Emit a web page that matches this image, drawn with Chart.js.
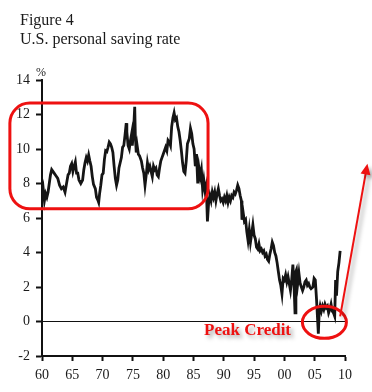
<!DOCTYPE html>
<html lang="en">
<head>
    <meta charset="UTF-8">
    <title>U.S. personal saving rate</title>
    <script src="https://cdn.jsdelivr.net/npm/chart.js"></script>
    <style>
        body {
            margin: 0;
            padding: 0;
            background: #fff;
            font-family: "Liberation Serif", "Times New Roman", serif;
        }
        #wrap {
            position: relative;
            width: 372px;
            height: 392px;
        }
        #savingChart {
            position: absolute;
            left: 0;
            top: 0;
        }
        .title {
            position: absolute;
            left: 20px;
            top: 10px;
            font-size: 16px;
            line-height: 19px;
            color: #1a1a1a;
        }
        .unit {
            position: absolute;
            left: 36px;
            top: 66px;
            font-size: 12px;
            line-height: 12px;
            color: #222;
        }
        .peak {
            position: absolute;
            left: 204px;
            top: 320px;
            font-size: 17px;
            line-height: 20px;
            font-weight: bold;
            color: #ee1111;
            text-shadow: 3px 3px 4px rgba(0, 0, 0, 0.35);
        }
    </style>
</head>
<body>
    <div id="wrap">
        <canvas id="savingChart" width="372" height="392"></canvas>
        <div class="title">Figure 4<br>U.S. personal saving rate</div>
        <div class="unit">%</div>
        <div class="peak">Peak Credit</div>
    </div>

    <script>
        // personal saving rate, % of disposable income
        const years = [
            1960.0, 1960.2, 1960.4, 1960.6, 1960.8, 1961.0, 1961.2, 1961.4, 1961.6, 1961.8,
            1962.0, 1962.3, 1962.6, 1962.9, 1963.2, 1963.5, 1963.8, 1964.0, 1964.3, 1964.5,
            1964.7, 1964.9, 1965.1, 1965.3, 1965.5, 1965.7, 1965.9, 1966.1, 1966.4, 1966.7,
            1966.9, 1967.1, 1967.3, 1967.5, 1967.7, 1967.9, 1968.1, 1968.3, 1968.5, 1968.8,
            1969.0, 1969.2, 1969.35, 1969.5, 1969.7, 1969.9, 1970.1, 1970.3, 1970.5, 1970.7,
            1970.9, 1971.1, 1971.3, 1971.5, 1971.7, 1971.9, 1972.1, 1972.3, 1972.5, 1972.7,
            1972.9, 1973.1, 1973.3, 1973.5, 1973.7, 1973.9, 1974.0, 1974.2, 1974.4, 1974.6,
            1974.8, 1974.9, 1975.1, 1975.3, 1975.4, 1975.55, 1975.7, 1975.9, 1976.1, 1976.4,
            1976.6, 1976.8, 1977.0, 1977.2, 1977.4, 1977.6, 1977.8, 1978.0, 1978.2, 1978.4,
            1978.6, 1978.8, 1979.0, 1979.2, 1979.4, 1979.6, 1979.8, 1980.0, 1980.2, 1980.4,
            1980.6, 1980.8, 1981.0, 1981.2, 1981.4, 1981.6, 1981.8, 1982.0, 1982.2, 1982.4,
            1982.6, 1982.8, 1983.0, 1983.2, 1983.4, 1983.6, 1983.8, 1984.0, 1984.3, 1984.5,
            1984.7, 1984.9, 1985.1, 1985.3, 1985.5, 1985.7, 1985.9, 1986.1, 1986.3, 1986.5,
            1986.7, 1986.9, 1987.1, 1987.3, 1987.5, 1987.7, 1987.9, 1988.1, 1988.3, 1988.5,
            1988.7, 1988.9, 1989.1, 1989.3, 1989.5, 1989.7, 1989.9, 1990.1, 1990.3, 1990.5,
            1990.7, 1990.9, 1991.1, 1991.3, 1991.5, 1991.7, 1991.9, 1992.1, 1992.3, 1992.5,
            1992.7, 1992.9, 1993.0, 1993.2, 1993.4, 1993.6, 1993.8, 1994.0, 1994.2, 1994.4,
            1994.6, 1994.8, 1995.0, 1995.2, 1995.4, 1995.6, 1995.8, 1996.0, 1996.2, 1996.4,
            1996.6, 1996.8, 1997.0, 1997.2, 1997.4, 1997.6, 1997.8, 1998.0, 1998.2, 1998.4,
            1998.6, 1998.8, 1999.0, 1999.2, 1999.4, 1999.6, 1999.8, 2000.0, 2000.2, 2000.4,
            2000.6, 2000.8, 2001.0, 2001.2, 2001.4, 2001.6, 2001.75, 2001.9, 2002.0, 2002.2,
            2002.4, 2002.6, 2002.8, 2003.0, 2003.2, 2003.4, 2003.6, 2003.8, 2004.0, 2004.2,
            2004.4, 2004.7, 2004.9, 2005.1, 2005.3, 2005.6, 2005.75, 2005.9, 2006.1, 2006.3,
            2006.5, 2006.7, 2006.9, 2007.1, 2007.3, 2007.5, 2007.7, 2007.9, 2008.1, 2008.3,
            2008.45, 2008.6, 2008.8, 2009.0, 2009.2
        ];
        const savingRate = [
            7.3, 7.7, 7.0, 7.4, 7.2, 7.5, 8.0, 8.5, 8.8, 8.7,
            8.6, 8.45, 8.3, 7.9, 7.7, 7.8, 7.5, 7.9, 8.5, 8.6,
            9.0, 9.15, 8.7, 9.0, 9.25, 8.6, 8.6, 8.2, 8.0, 8.2,
            8.8, 9.2, 9.5, 9.3, 9.65, 9.3, 9.0, 8.4, 7.95, 7.7,
            7.2, 7.05, 6.9, 7.4, 7.9, 8.5, 8.6, 9.4, 9.9, 9.85,
            10.1, 10.4, 10.3, 10.1, 9.8, 9.0, 8.3, 7.9, 8.2, 8.9,
            9.2, 9.5, 10.1, 10.2, 10.8, 11.5, 11.0, 10.2, 10.0, 10.5,
            10.9, 10.2, 11.0, 12.45, 10.8, 9.8, 10.2, 9.7, 9.6, 9.3,
            8.9, 8.6, 7.9, 8.5, 9.2, 8.8, 9.0, 8.7, 8.4, 9.0,
            8.8, 8.9, 8.5, 8.4, 8.9, 9.3, 9.5, 9.7, 9.9, 10.1,
            9.9, 10.5, 10.4, 10.2, 11.3, 11.8, 12.1, 11.7, 11.8, 11.3,
            11.0, 10.5, 9.9, 9.2, 8.7, 8.6, 9.3, 10.3, 10.6, 11.2,
            10.9, 10.3, 10.0, 9.0, 9.7, 8.0, 8.9, 8.4, 8.8, 7.7,
            8.2, 7.6, 7.9, 5.8, 6.9, 7.3, 7.0, 7.5, 7.2, 7.5,
            7.0, 7.4, 7.7, 7.3, 7.0, 7.1, 6.9, 7.2, 7.0, 7.3,
            6.9, 7.2, 7.0, 7.3, 7.2, 7.5, 7.4, 7.6, 7.9, 7.7,
            7.3, 7.0, 5.9, 6.3, 5.8, 5.9, 5.2, 4.7, 5.3, 4.6,
            5.1, 5.6, 5.0, 4.8, 4.3, 4.2, 4.5, 4.1, 4.2, 4.0,
            4.1, 3.8, 3.9, 3.6, 3.5, 3.9, 4.2, 4.6, 4.4, 4.0,
            3.8, 3.4, 2.9, 2.4, 2.1, 1.6, 2.5, 2.4, 2.7, 2.3,
            2.6, 2.2, 1.8, 2.4, 3.3, 2.0, 0.5, 2.9, 3.0, 2.2,
            2.8, 2.2, 2.0, 1.8, 2.0, 2.3, 2.4, 2.1, 2.2, 2.0,
            1.9, 2.0, 2.5, 2.4, 1.3, -0.7, 0.6, 0.9, 0.6, 0.9,
            0.7, 1.0, 0.8, 0.9, 0.5, 0.7, 1.0, 0.6, 0.5, 0.3,
            2.4, 1.5, 2.9, 3.4, 4.1
        ];
        const xTicks = [1960, 1965, 1970, 1975, 1980, 1985, 1990, 1995, 2000, 2005, 2010];
        const yTicks = [-2, 0, 2, 4, 6, 8, 10, 12, 14];

        const points = years.map((y, i) => ({ x: y, y: savingRate[i] }));

        // red annotations, in data units (year, %)
        const highlightBox = { x0: 1954.7, x1: 1987.4, y0: 6.53, y1: 12.66 };
        const peakEllipse = { x: 2006.6, y: -0.05 };
        const arrowFrom = { x: 2009.2, y: 0.3 };
        const arrowTo = { x: 2013.7, y: 9.15 };

        const red = '#ee1111';
        const serif = '"Liberation Serif", "Times New Roman", serif';

        const annotations = {
            id: 'annotations',
            afterDraw(chart) {
                const ctx = chart.ctx;
                const xs = chart.scales.x, ys = chart.scales.y;
                ctx.save();
                ctx.strokeStyle = red;
                ctx.lineWidth = 3;

                // box round the high-saving decades
                const bx0 = xs.getPixelForValue(highlightBox.x0);
                const bx1 = xs.getPixelForValue(highlightBox.x1);
                const by0 = ys.getPixelForValue(highlightBox.y1);
                const by1 = ys.getPixelForValue(highlightBox.y0);
                ctx.beginPath();
                ctx.roundRect(bx0, by0, bx1 - bx0, by1 - by0, 20);
                ctx.stroke();

                // ellipse at the trough
                ctx.beginPath();
                ctx.ellipse(xs.getPixelForValue(peakEllipse.x), ys.getPixelForValue(peakEllipse.y), 22, 16, 0, 0, Math.PI * 2);
                ctx.stroke();

                // arrow pointing up, with a soft shadow
                const ax0 = xs.getPixelForValue(arrowFrom.x), ay0 = ys.getPixelForValue(arrowFrom.y);
                const ax1 = xs.getPixelForValue(arrowTo.x), ay1 = ys.getPixelForValue(arrowTo.y);
                const ang = Math.atan2(ay1 - ay0, ax1 - ax0);
                const head = 11, half = 5;
                ctx.shadowColor = 'rgba(0,0,0,0.35)';
                ctx.shadowBlur = 4;
                ctx.shadowOffsetX = 3;
                ctx.shadowOffsetY = 3;
                ctx.lineWidth = 2;
                ctx.beginPath();
                ctx.moveTo(ax0, ay0);
                ctx.lineTo(ax1 - Math.cos(ang) * head * 0.8, ay1 - Math.sin(ang) * head * 0.8);
                ctx.stroke();
                ctx.fillStyle = red;
                ctx.beginPath();
                ctx.moveTo(ax1, ay1);
                ctx.lineTo(ax1 - Math.cos(ang) * head + Math.sin(ang) * half, ay1 - Math.sin(ang) * head - Math.cos(ang) * half);
                ctx.lineTo(ax1 - Math.cos(ang) * head - Math.sin(ang) * half, ay1 - Math.sin(ang) * head + Math.cos(ang) * half);
                ctx.closePath();
                ctx.fill();
                ctx.restore();
            }
        };

        new Chart(document.getElementById('savingChart'), {
            type: 'line',
            data: {
                datasets: [{
                    data: points,
                    borderColor: '#151515',
                    borderWidth: 2.8,
                    pointRadius: 0,
                    tension: 0,
                    fill: false
                }]
            },
            options: {
                responsive: false,
                animation: false,
                events: [],
                layout: { padding: { top: 80, right: 27, left: 0, bottom: 0 } },
                plugins: {
                    legend: { display: false },
                    tooltip: { enabled: false }
                },
                scales: {
                    x: {
                        type: 'linear',
                        min: 1960,
                        max: 2010,
                        afterBuildTicks: s => { s.ticks = xTicks.map(v => ({ value: v })); },
                        afterFit: s => { s.height = 36; },
                        border: { display: true, color: '#111', width: 2 },
                        grid: { drawOnChartArea: false, tickColor: '#111', tickLength: 5, tickWidth: 2 },
                        ticks: {
                            color: '#1a1a1a',
                            padding: 6,
                            maxRotation: 0,
                            font: { family: serif, size: 14 },
                            callback: v => String(v % 100).padStart(2, '0')
                        }
                    },
                    y: {
                        min: -2,
                        max: 14,
                        afterBuildTicks: s => { s.ticks = yTicks.map(v => ({ value: v })); },
                        afterFit: s => { s.width = 42; },
                        border: { display: true, color: '#111', width: 2 },
                        grid: {
                            color: c => (c.tick && c.tick.value === 0) ? '#111' : 'rgba(0,0,0,0)',
                            lineWidth: 1,
                            tickColor: '#111',
                            tickLength: 6,
                            tickWidth: 2
                        },
                        ticks: {
                            color: '#1a1a1a',
                            padding: 6,
                            font: { family: serif, size: 14 }
                        }
                    }
                }
            },
            plugins: [annotations]
        });
    </script>
</body>
</html>
